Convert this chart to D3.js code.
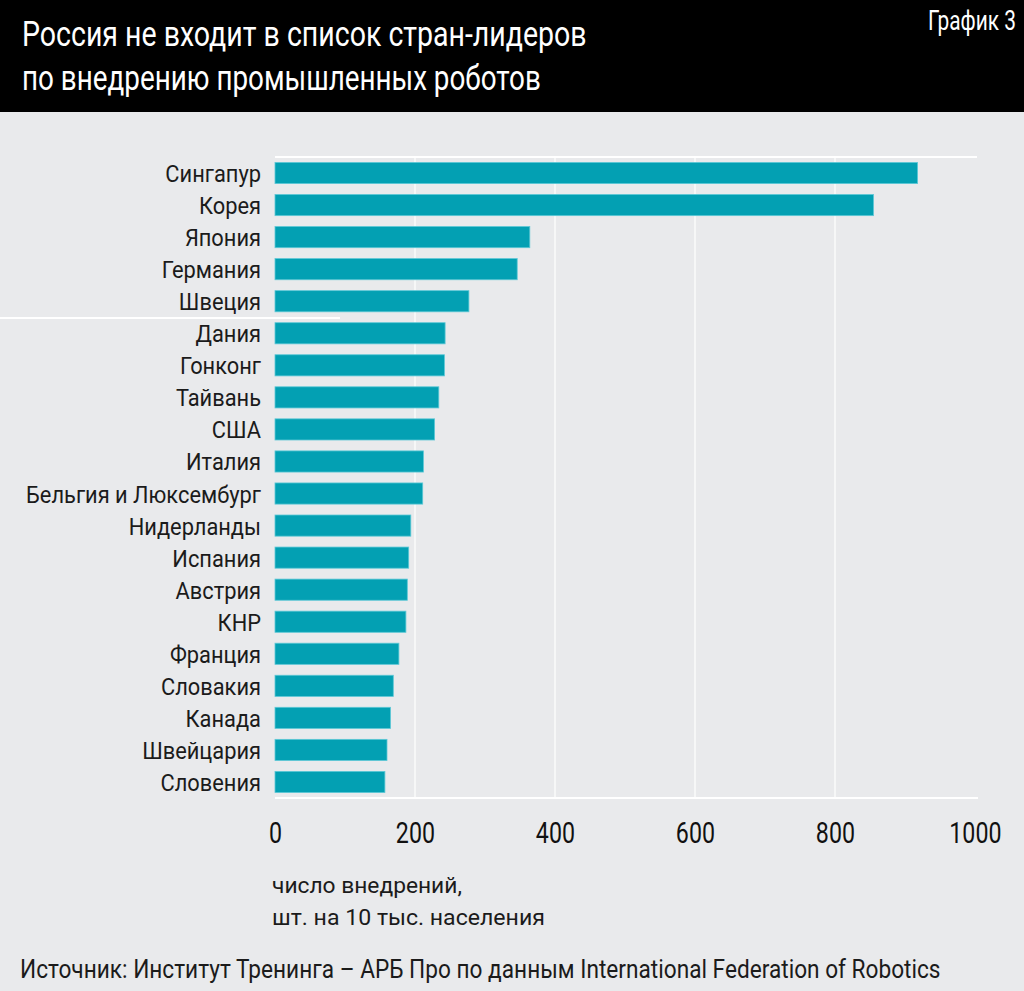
<!DOCTYPE html>
<html><head><meta charset="utf-8">
<script src="https://cdn.jsdelivr.net/npm/d3@7"></script>
<style>
html,body{margin:0;padding:0;background:#e9eaec;}
svg{display:block;}
text{font-family:Roboto,"Noto Sans",sans-serif;}
</style></head>
<body>
<svg id="chart" width="1024" height="991"></svg>
<script>
const categories = ["Сингапур","Корея","Япония","Германия","Швеция","Дания","Гонконг","Тайвань","США","Италия","Бельгия и Люксембург","Нидерланды","Испания","Австрия","КНР","Франция","Словакия","Канада","Швейцария","Словения"];
const values = [918,855,364,346,277,243,242,234,228,212,211,194,191,189,187,177,169,165,160,157];
const xTicks = [0,200,400,600,800,1000];
const titleLines = ["Россия не входит в список стран-лидеров","по внедрению промышленных роботов"];
const chartTag = "График 3";
const unitLines = ["число внедрений,","шт. на 10 тыс. населения"];
const sourceText = "Источник: Институт Тренинга – АРБ Про по данным International Federation of Robotics";

const svg = d3.select("#chart");
const W = 1024, H = 991;

svg.append("rect").attr("width",W).attr("height",H).attr("fill","#e9eaec");
svg.append("rect").attr("width",W).attr("height",112).attr("fill","#000");

// text condensed to a given width by a horizontal scale
function fitLabel(parent, str, x0, y0, size, width, color, anchor){
  const grp = parent.append("g");
  const t = grp.append("text").attr("x",0).attr("y",0).attr("font-size",size)
    .attr("fill",color).attr("text-anchor",anchor||"start").text(str);
  const k = width / t.node().getComputedTextLength();
  grp.attr("transform",`translate(${x0},${y0}) scale(${k},1)`);
  return grp;
}

// Title
fitLabel(svg, titleLines[0], 22, 46, 35, 565, "#fff");
fitLabel(svg, titleLines[1], 22, 90, 35, 519, "#fff");
fitLabel(svg, chartTag, 1016, 30, 27, 88, "#fff", "end");

const x = d3.scaleLinear().domain([0,1000]).range([275,975]);
const y = d3.scaleBand().domain(categories).range([157,798]).paddingInner(0.34).paddingOuter(0.17);

// grid
const g = svg.append("g");
g.selectAll("line.v").data(xTicks.filter(d=>d>0 && d<1000)).join("line")
  .attr("x1",d=>x(d)).attr("x2",d=>x(d)).attr("y1",157).attr("y2",798)
  .attr("stroke","#fff").attr("stroke-width",1.2);
g.append("line").attr("x1",x(0)).attr("x2",977).attr("y1",157).attr("y2",157).attr("stroke","#fff").attr("stroke-width",2);
g.append("line").attr("x1",x(0)).attr("x2",978).attr("y1",798).attr("y2",798).attr("stroke","#fff").attr("stroke-width",2);
// decorative white stroke at left
g.append("line").attr("x1",0).attr("x2",340).attr("y1",318).attr("y2",318).attr("stroke","#fff").attr("stroke-width",2);

// bars
const data = categories.map((c,i)=>({c, v: values[i]}));
svg.append("g").selectAll("rect").data(data).join("rect")
  .attr("x",x(0)).attr("y",d=>y(d.c)).attr("width",d=>x(d.v)-x(0)).attr("height",y.bandwidth())
  .attr("fill","#03a0b3").attr("stroke","#5cc8d6").attr("stroke-width",0.8);

// category labels (condensed via scaleX)
const lab = svg.append("g");
const labInner = lab.append("g");
labInner.selectAll("text").data(data).join("text")
  .attr("x",0).attr("y",d=>y(d.c)+y.bandwidth()/2+9)
  .attr("text-anchor","end").attr("font-size",24).attr("fill","#1b1b1b")
  .text(d=>d.c);
const ref = labInner.selectAll("text").filter(d=>d.c==="Бельгия и Люксембург").node();
const k = 235 / ref.getComputedTextLength();
labInner.attr("transform",`translate(261,0) scale(${k},1)`);

// x-axis tick labels (condensed digits)
const axis = d3.axisBottom(d3.scaleLinear().domain(x.domain()).range(x.range().map(v=>v/0.8)))
  .tickValues(xTicks).tickSize(0).tickPadding(0).tickFormat(d3.format("d"));
const axG = svg.append("g").attr("transform","translate(0,843) scale(0.8,1)").call(axis);
axG.select(".domain").remove();
axG.selectAll("text").attr("font-size",29).attr("fill","#111").attr("dy",0).attr("y",0)
  .attr("font-family","Roboto, sans-serif");

// unit note
fitLabel(svg, unitLines[0], 272, 893, 22, 190, "#1b1b1b");
fitLabel(svg, unitLines[1], 272, 925, 22, 273, "#1b1b1b");

// source
fitLabel(svg, sourceText, 20, 978, 26, 921, "#1b1b1b");
</script>
</body></html>
